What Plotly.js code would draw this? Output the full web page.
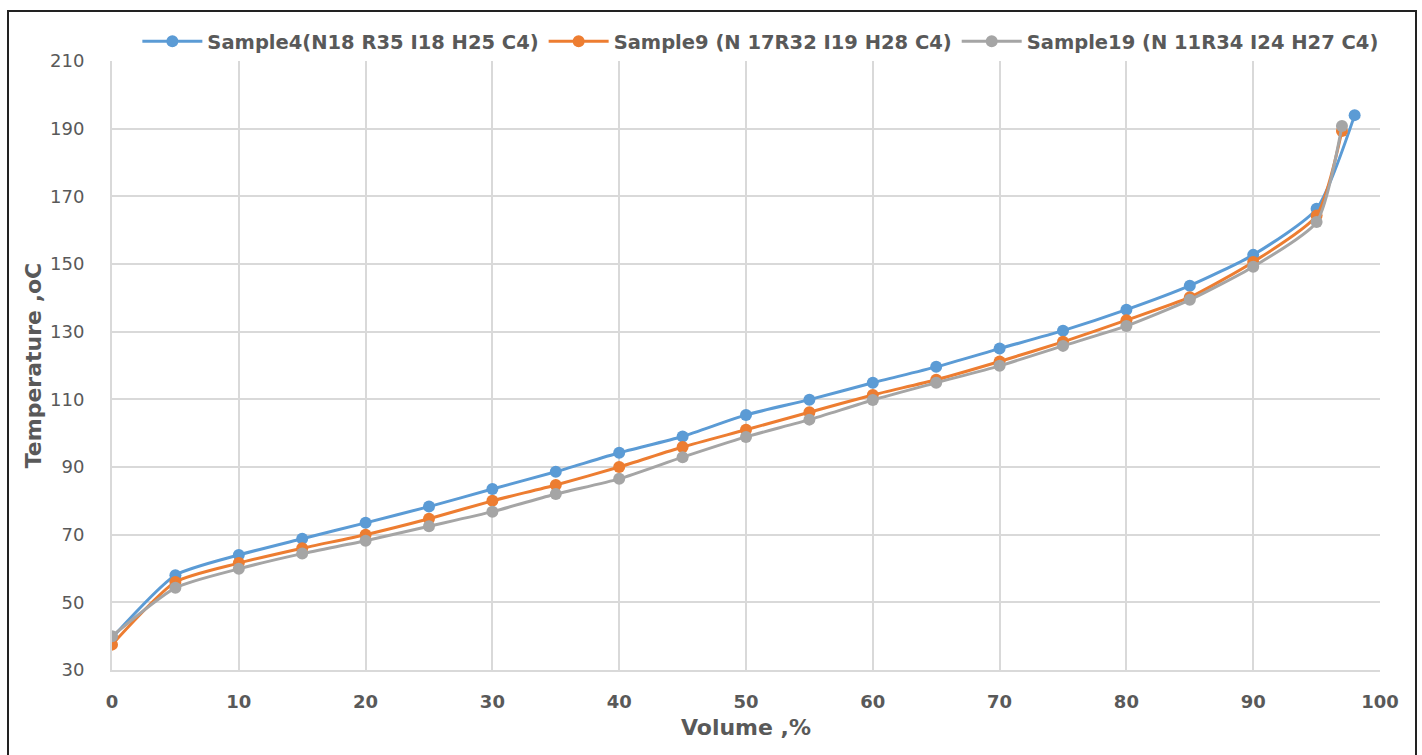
<!DOCTYPE html>
<html><head><meta charset="utf-8">
<script src="https://cdn.plot.ly/plotly-3.0.1.min.js"></script>
<style>
html,body{margin:0;padding:0;background:#fff;}
#frame{position:absolute;left:7px;top:10px;width:1406px;height:760px;border-left:2px solid #222;border-top:2px solid #222;border-right:2px solid #222;pointer-events:none;z-index:5;}
#chart{position:absolute;left:0;top:0;width:1422px;height:755px;}
</style></head>
<body>
<div id="chart"></div><div id="frame"></div>
<script>
const xs4 = [0,5,10,15,20,25,30,35,40,45,50,55,60,65,70,75,80,85,90,95,98];
const ys4 = [39.5,58,64,68.8,73.5,78.3,83.5,88.6,94.2,99,105.4,109.9,114.9,119.6,125,130.3,136.5,143.6,152.7,166.3,194];
const xs9 = [0,5,10,15,20,25,30,35,40,45,50,55,60,65,70,75,80,85,90,95,97];
const ys9 = [37.5,56,61.6,66,70,74.7,80,84.7,90,95.9,101,106.2,111.3,115.8,121.2,127,133.4,140.2,150.6,164.3,189.3];
const xs19 = [0,5,10,15,20,25,30,35,40,45,50,55,60,65,70,75,80,85,90,95,97];
const ys19 = [40,54.3,59.9,64.4,68.2,72.5,76.8,82,86.5,92.9,98.9,104,109.8,114.9,119.9,125.8,131.7,139.4,149.2,162.4,190.8];
const names = ["Sample4(N18 R35 I18 H25 C4)","Sample9 (N 17R32 I19 H28 C4)","Sample19 (N 11R34 I24 H27 C4)"];
const colors = ["#5B9BD5","#ED7D31","#A5A5A5"];
const xTicks = [0,10,20,30,40,50,60,70,80,90,100];
const yTicks = [30,50,70,90,110,130,150,170,190,210];

const series = [[xs4,ys4],[xs9,ys9],[xs19,ys19]];
const data = series.map((s,i)=>({
  x:s[0], y:s[1], name:names[i], type:'scatter', mode:'lines+markers',
  line:{color:colors[i], width:3, shape:'spline', smoothing:0.6},
  marker:{color:colors[i], size:12}
}));
const fam = '"DejaVu Sans", sans-serif';
const layout = {
  width:1422, height:755,
  margin:{l:112, r:42, t:61, b:85},
  paper_bgcolor:'#fff', plot_bgcolor:'#fff',
  showlegend:true,
  legend:{orientation:'h', x:0.02, y:1.0, xanchor:'left', yanchor:'bottom',
    font:{family:fam, size:19.5, color:'#595959', weight:'bold'},
    itemwidth:60, tracegroupgap:0},
  xaxis:{range:[0,100], tickvals:xTicks, ticktext:xTicks.map(String), showgrid:true, gridcolor:'#D9D9D9', gridwidth:2,
    zeroline:false, showline:true, linecolor:'#D9D9D9', linewidth:2, ticks:'', ticklabelstandoff:14,
    tickfont:{family:fam, size:18, color:'#595959', weight:'bold'},
    title:{text:'Volume ,%', font:{family:fam, size:22, color:'#595959', weight:'bold'}, standoff:9}},
  yaxis:{range:[30,210], tickvals:yTicks, ticktext:yTicks.map(String), showgrid:true, gridcolor:'#D9D9D9', gridwidth:2,
    zeroline:false, showline:true, linecolor:'#D9D9D9', linewidth:2, ticks:'', ticklabelstandoff:22,
    tickfont:{family:fam, size:18, color:'#595959'},
    title:{text:'Temperature ,oC', font:{family:fam, size:22, color:'#595959', weight:'bold'}, standoff:2}}
};
Plotly.newPlot('chart', data, layout, {displayModeBar:false, staticPlot:true});
</script>
</body></html>
